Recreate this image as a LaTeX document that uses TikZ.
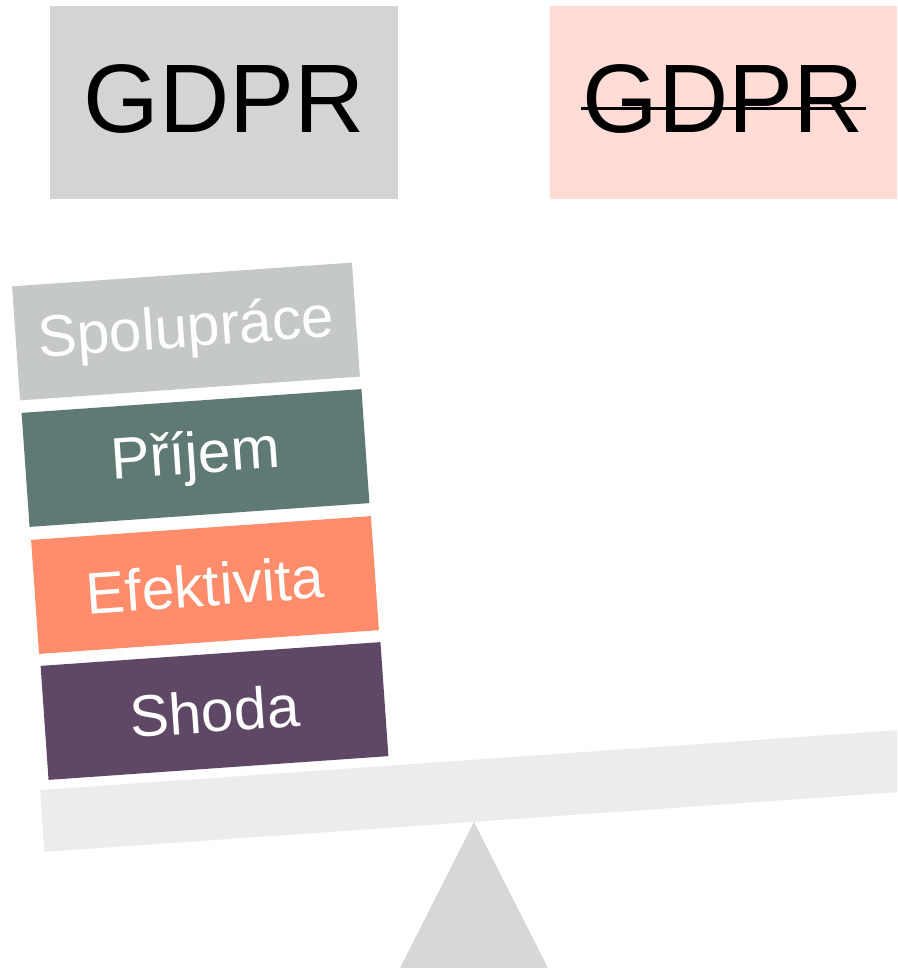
\documentclass[tikz,border=0pt]{standalone}
\usepackage{fontspec}
\setmainfont{Liberation Sans}
\usepackage{tikz}
\usetikzlibrary{positioning}
\definecolor{lawgray}{HTML}{D4D3D5}
\definecolor{lawpink}{HTML}{FFDDD6}
\definecolor{coopgray}{HTML}{C5C8C8}
\definecolor{incomegreen}{HTML}{5F7A75}
\definecolor{efforange}{HTML}{FF8C6B}
\definecolor{complypurple}{HTML}{5F4866}
\definecolor{beamgray}{HTML}{EBECEB}
\definecolor{pivotgray}{HTML}{D5D8D7}

\begin{document}
\begin{tikzpicture}[x=0.75pt,y=-0.75pt,
    law/.style={minimum width=261pt,minimum height=144.75pt,inner sep=0pt,text depth=6pt,font=\fontsize{73}{73}\selectfont},
    brick/.style={rotate=4,minimum width=255.5pt,minimum height=85.7pt,inner sep=0pt,text=white,font=\fontsize{44}{44}\selectfont}]
    \clip (0,0) rectangle (897,968);
    % top: with and without GDPR
    \node[law,fill=lawgray] (gdpr) at (224,102.5) {GDPR};
    \node[law,fill=lawpink] (nogdpr) [right = 113.25pt of gdpr] {GDPR};
    \draw[line width=2.25pt] (581,108) -- (866,108);

    % stacked weights
    \node[brick,fill=coopgray] (coop) at (186,331.5) {Spolupráce};
    \node[brick,fill=incomegreen] (income) at (195.5,458) {Příjem};
    \node[brick,fill=efforange] (eff) at (205,585) {Efektivita};
    \node[brick,fill=complypurple] (comply) at (214.5,711) {Shoda};

    % seesaw
    \node[rotate=4,fill=beamgray,minimum width=720pt,minimum height=46.5pt,inner sep=0pt,anchor=west] (beam) at (42,821) {};
    \fill[pivotgray] (474,822) -- (552,976) -- (396,976) -- cycle;
\end{tikzpicture}
\end{document}
